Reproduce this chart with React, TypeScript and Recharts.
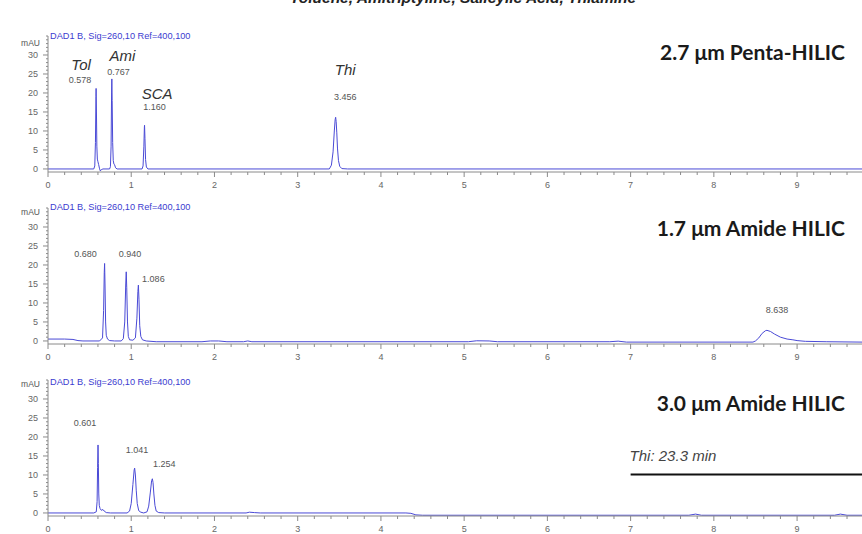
import React from "react";
import { LineChart, Line, XAxis, YAxis, ReferenceDot, ReferenceLine } from "recharts";

// ---------- data ----------
const pentaTrace: [number, number][] = [
  [0, 0], [0.3, 0], [0.55, 0], [0.562, 0.8], [0.57, 7], [0.576, 19], [0.578, 21.2], [0.582, 15],
  [0.587, 6], [0.593, 2.6], [0.6, 1.9], [0.608, 1.2], [0.618, 0.2], [0.628, -0.5], [0.64, -0.2],
  [0.66, 0], [0.74, 0], [0.75, 0.6], [0.758, 6], [0.764, 20], [0.767, 23.7], [0.771, 18],
  [0.777, 7], [0.784, 2.2], [0.792, 1.3], [0.8, 1.1], [0.812, 0.3], [0.83, 0], [1.13, 0],
  [1.142, 0.8], [1.152, 6], [1.158, 11], [1.16, 11.5], [1.165, 8], [1.172, 2.5], [1.182, 0.5],
  [1.2, 0], [3.38, 0], [3.405, 1], [3.425, 4.5], [3.44, 10], [3.45, 13], [3.456, 13.6],
  [3.462, 12.5], [3.47, 9.5], [3.478, 5.5], [3.49, 2.2], [3.505, 0.7], [3.53, 0.1], [3.6, 0],
  [9.78, 0],
];

const amide17Trace: [number, number][] = [
  [0, 0.5], [0.2, 0.5], [0.3, 0.4], [0.36, 0.1], [0.42, 0], [0.62, 0], [0.655, 0.8], [0.668, 8],
  [0.676, 18], [0.68, 20.4], [0.685, 15], [0.692, 5], [0.7, 1.5], [0.715, 0.5], [0.74, 0.1],
  [0.8, 0], [0.88, 0], [0.905, 0.6], [0.922, 5], [0.934, 15], [0.94, 18.2], [0.946, 14],
  [0.955, 5], [0.965, 1.2], [0.98, 0.3], [1.02, 0.2], [1.05, 0.8], [1.068, 6], [1.08, 13],
  [1.086, 14.7], [1.093, 11], [1.102, 4], [1.115, 1.2], [1.135, 0.3], [1.18, 0], [1.3, -0.2],
  [1.85, -0.2], [1.95, 0], [2.05, 0], [2.15, -0.2], [2.35, -0.2], [2.4, 0], [2.45, -0.2],
  [5.05, -0.2], [5.15, 0.05], [5.3, 0], [5.4, -0.2], [6.75, -0.2], [6.85, -0.05], [6.95, -0.3],
  [8.47, -0.3], [8.5, 0], [8.54, 0.8], [8.58, 2], [8.62, 2.7], [8.638, 2.8], [8.68, 2.5],
  [8.73, 1.8], [8.8, 1.0], [8.88, 0.5], [8.95, 0.3], [9.0, 0.1], [9.1, -0.1], [9.35, -0.2],
  [9.78, -0.3],
];

const amide30Trace: [number, number][] = [
  [0, 0], [0.55, 0], [0.58, 0.3], [0.59, 3], [0.596, 12], [0.601, 17.9], [0.605, 13], [0.61, 5],
  [0.616, 2], [0.625, 1.2], [0.64, 0.7], [0.66, 0.9], [0.675, 0.5], [0.7, 0.1], [0.75, 0],
  [0.95, 0], [0.98, 0.5], [1.0, 2.5], [1.02, 7.5], [1.035, 11.3], [1.041, 11.8], [1.05, 10],
  [1.06, 6], [1.072, 2.5], [1.09, 0.6], [1.115, 0.2], [1.15, 0], [1.19, 0.3], [1.21, 1.8],
  [1.23, 5.5], [1.245, 8.5], [1.254, 9.0], [1.262, 8], [1.272, 5], [1.285, 2], [1.3, 0.5],
  [1.33, 0.1], [1.4, 0], [2.38, 0], [2.42, 0.2], [2.48, 0.1], [2.55, 0], [4.3, 0], [4.36, -0.1],
  [4.42, -0.5], [4.5, -0.6], [7.7, -0.6], [7.78, -0.3], [7.85, -0.6], [9.45, -0.6], [9.52, -0.3],
  [9.6, -0.6], [9.78, -0.6],
];

// peaks: retention time, apex height, printed label, compound name
const pentaPeakTimes = [0.578, 0.767, 1.16, 3.456];
const pentaPeakHeights = [21.2, 23.7, 11.5, 13.6];
const pentaPeakLabels = ["0.578", "0.767", "1.160", "3.456"];
const pentaPeakNames = ["Tol", "Ami", "SCA", "Thi"];

const amide17PeakTimes = [0.68, 0.94, 1.086, 8.638];
const amide17PeakHeights = [20.4, 18.2, 14.7, 2.8];
const amide17PeakLabels = ["0.680", "0.940", "1.086", "8.638"];

const amide30PeakTimes = [0.601, 1.041, 1.254];
const amide30PeakHeights = [17.9, 11.8, 9.0];
const amide30PeakLabels = ["0.601", "1.041", "1.254"];

const panelTitles = ["2.7 \u03bcm Penta-HILIC", "1.7 \u03bcm Amide HILIC", "3.0 \u03bcm Amide HILIC"];
const signalLabel = "DAD1 B, Sig=260,10 Ref=400,100";
const headerTitle = "Toluene, Amitriptyline, Salicylic Acid, Thiamine";
const thiNote = "Thi: 23.3 min";
const thiNoteTime = 7;
const thiNoteLevel = 10.1;

const xMajorLabels = [0, 1, 2, 3, 4, 5, 6, 7, 8, 9];
const xTicks = Array.from({ length: 49 }, (_, i) => Math.round(i * 2) / 10);
const yTicks = Array.from({ length: 36 }, (_, i) => i);
const yLabelled = [0, 5, 10, 15, 20, 25, 30];

// ---------- layout / style ----------
const W = 862;
const H = 534;
const MT = 20;
const X_AXIS_H = 22;
const PLOT_H = 136;
const CHART_H = MT + PLOT_H + X_AXIS_H;
const Y_AXIS_W = 48;
const X_DOMAIN: [number, number] = [0, 9.78];
const Y_DOMAIN: [number, number] = [-0.8, 35];
const panelTops = [16, 188, 360];
const SIGNAL = "#4a4ad6";
const AXIS = "#8a8a8a";
const TICK_TXT = "#666";
const SANS = "'Liberation Sans', Arial, sans-serif";

// label offsets (px) relative to the peak apex
const pentaNameOffsets = [[-15, -18.4], [10.7, -17.5], [12.5, -26], [9.5, -42.3]];
const pentaRtOffsets = [[-16, -5.4], [6.7, -4], [10, -15.3], [9.5, -17.3]];
const amide17Offsets = [[-19, -6.8], [3.8, -15.1], [15, -3.4], [10, -17]];
const amide30Offsets = [[-13, -19.3], [2.4, -15], [12, -12]];

const toRows = (trace: [number, number][]) => trace.map(([t, v]) => ({ t, v }));

const XTick = (props: any) => {
  const { x, y, payload } = props;
  const v = payload.value;
  const major = xMajorLabels.some((m) => Math.abs(m - v) < 1e-6);
  return (
    <g>
      <line x1={x} x2={x} y1={y} y2={y + (major ? 5 : 3)} stroke={AXIS} strokeWidth={1} />
      {major && (
        <text x={x} y={y + 16} textAnchor="middle" fontSize={9} fill={TICK_TXT} fontFamily={SANS}>
          {Math.round(v)}
        </text>
      )}
    </g>
  );
};

const YTick = (props: any) => {
  const { x, y, payload } = props;
  const v = payload.value;
  const major = yLabelled.includes(v);
  return (
    <g>
      <line x1={x - (major ? 5 : 2)} x2={x} y1={y} y2={y} stroke={AXIS} strokeWidth={1} />
      {major && (
        <text x={x - 10} y={y + 3} textAnchor="end" fontSize={9} fill={TICK_TXT} fontFamily={SANS}>
          {v}
        </text>
      )}
    </g>
  );
};

const textAt = (
  key: string,
  t: number,
  v: number,
  text: string,
  dx: number,
  dy: number,
  style: { size: number; italic?: boolean; fill: string; anchor?: string }
) => (
  <ReferenceDot
    key={key}
    x={t}
    y={v}
    r={0}
    ifOverflow="visible"
    shape={(p: any) => (
      <text
        x={p.cx + dx}
        y={p.cy + dy}
        textAnchor={(style.anchor as any) || "middle"}
        fontSize={style.size}
        fontStyle={style.italic ? "italic" : "normal"}
        fill={style.fill}
        fontFamily={SANS}
      >
        {text}
      </text>
    )}
  />
);

const rtStyle = { size: 9, fill: "#555" };
const nameStyle = { size: 15, italic: true, fill: "#333" };

const Panel = ({ top, rows, children }: { top: number; rows: any[]; children?: React.ReactNode }) => (
  <div style={{ position: "absolute", left: 0, top, width: W, height: CHART_H }}>
    <LineChart width={W} height={CHART_H} data={rows} margin={{ top: MT, right: 0, bottom: 0, left: 0 }}>
      <XAxis
        type="number"
        dataKey="t"
        domain={X_DOMAIN}
        allowDataOverflow
        ticks={xTicks}
        interval={0}
        height={X_AXIS_H}
        tickSize={0}
        tickMargin={0}
        tickLine={false}
        axisLine={{ stroke: AXIS, strokeWidth: 1 }}
        tick={<XTick />}
      />
      <YAxis
        type="number"
        domain={Y_DOMAIN}
        allowDataOverflow
        ticks={yTicks}
        interval={0}
        width={Y_AXIS_W}
        tickSize={0}
        tickMargin={0}
        tickLine={false}
        axisLine={{ stroke: AXIS, strokeWidth: 1 }}
        tick={<YTick />}
      />
      <Line
        type="linear"
        dataKey="v"
        stroke={SIGNAL}
        strokeWidth={1}
        dot={false}
        activeDot={false}
        isAnimationActive={false}
      />
      {children}
    </LineChart>
  </div>
);

const titleBaselines = [60, 236, 411];
const signalBaselines = [39, 210, 385];
const mauBaselines = [46, 215, 387];

export default function App() {
  return (
    <div
      style={{
        position: "absolute",
        left: 0,
        top: 0,
        width: W,
        height: H,
        overflow: "hidden",
        background: "#fff",
      }}
    >
      <Panel top={panelTops[0]} rows={toRows(pentaTrace)}>
        {pentaPeakTimes.map((t, i) =>
          textAt("pn" + i, t, pentaPeakHeights[i], pentaPeakNames[i], pentaNameOffsets[i][0], pentaNameOffsets[i][1], nameStyle)
        )}
        {pentaPeakTimes.map((t, i) =>
          textAt("pr" + i, t, pentaPeakHeights[i], pentaPeakLabels[i], pentaRtOffsets[i][0], pentaRtOffsets[i][1], rtStyle)
        )}
      </Panel>
      <Panel top={panelTops[1]} rows={toRows(amide17Trace)}>
        {amide17PeakTimes.map((t, i) =>
          textAt("mr" + i, t, amide17PeakHeights[i], amide17PeakLabels[i], amide17Offsets[i][0], amide17Offsets[i][1], rtStyle)
        )}
      </Panel>
      <Panel top={panelTops[2]} rows={toRows(amide30Trace)}>
        {amide30PeakTimes.map((t, i) =>
          textAt("br" + i, t, amide30PeakHeights[i], amide30PeakLabels[i], amide30Offsets[i][0], amide30Offsets[i][1], rtStyle)
        )}
        <ReferenceLine
          segment={[
            { x: thiNoteTime, y: thiNoteLevel },
            { x: X_DOMAIN[1], y: thiNoteLevel },
          ]}
          stroke="#111"
          strokeWidth={2}
          ifOverflow="visible"
        />
        {textAt("thi", thiNoteTime, thiNoteLevel, thiNote, -1, -13.5, {
          size: 15,
          italic: true,
          fill: "#444",
          anchor: "start",
        })}
      </Panel>
      <svg
        width={W}
        height={H}
        style={{ position: "absolute", left: 0, top: 0, pointerEvents: "none" }}
      >
        <text
          x={463}
          y={2.5}
          textAnchor="middle"
          fontSize={15.5}
          fontWeight="bold"
          fontStyle="italic"
          fill="#222"
          fontFamily={SANS}
        >
          {headerTitle}
        </text>
        {panelTitles.map((s, i) => (
          <text
            key={"t" + i}
            x={845}
            y={titleBaselines[i]}
            textAnchor="end"
            fontSize={21}
            fontWeight="bold"
            fill="#1a1a1a"
            fontFamily="Lato, 'Open Sans', sans-serif"
          >
            {s}
          </text>
        ))}
        {signalBaselines.map((b, i) => (
          <text key={"s" + i} x={50} y={b} fontSize={9.2} fill="#3c3cd0" fontFamily={SANS}>
            {signalLabel}
          </text>
        ))}
        {mauBaselines.map((b, i) => (
          <text key={"m" + i} x={40} y={b} textAnchor="end" fontSize={8.5} fill="#555" fontFamily={SANS}>
            mAU
          </text>
        ))}
      </svg>
    </div>
  );
}
